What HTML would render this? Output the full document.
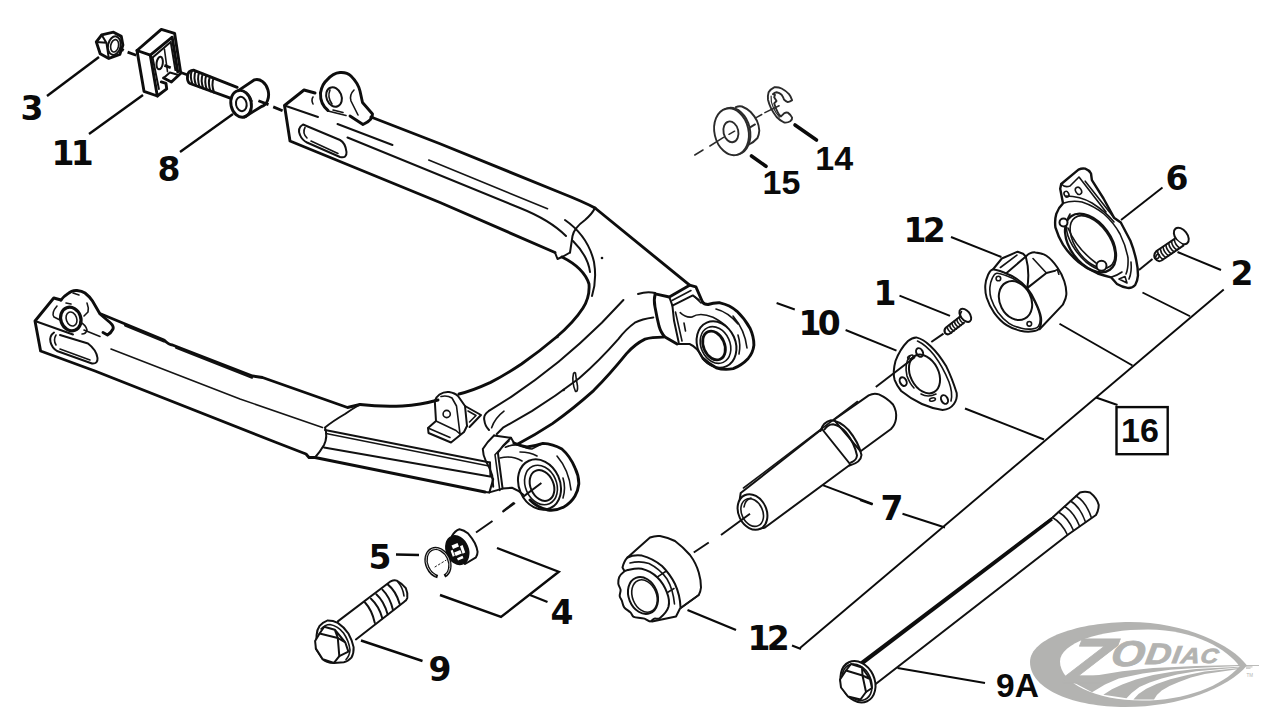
<!DOCTYPE html>
<html lang="en">
<head>
<meta charset="utf-8">
<title>Swingarm parts diagram</title>
<style>
html,body{margin:0;padding:0;background:#fff;}
body{width:1280px;height:728px;overflow:hidden;}
svg{display:block;}
.o{fill:none;stroke:#0d0d0d;stroke-width:2.9;stroke-linecap:round;stroke-linejoin:round;}
.m{fill:none;stroke:#111;stroke-width:2;stroke-linecap:round;stroke-linejoin:round;}
.t{fill:none;stroke:#151515;stroke-width:1.6;stroke-linecap:round;stroke-linejoin:round;}
.w{fill:#fff;}
.ld{fill:none;stroke:#0a0a0a;stroke-width:2.4;stroke-linecap:butt;}
.ld2{fill:none;stroke:#0a0a0a;stroke-width:1.9;stroke-linecap:butt;}
.ld3{fill:none;stroke:#0a0a0a;stroke-width:3.6;stroke-linecap:round;}
.ax{fill:none;stroke:#111;stroke-width:2;stroke-linecap:butt;}
.c{font-family:"DejaVu Sans","Liberation Sans",sans-serif;font-weight:bold;font-size:33px;letter-spacing:-3.6px;fill:#0a0a0a;}
.a{font-family:"Liberation Sans",sans-serif;font-weight:bold;font-size:34px;fill:#0a0a0a;}
</style>
</head>
<body>
<svg width="1280" height="728" viewBox="0 0 1280 728">
<rect width="1280" height="728" fill="#fff"/>

<!--LEADERS-->
<g id="leaders">
<path class="ld" d="M47 96L99 57"/>
<path class="ld" d="M89 134L143 95"/>
<path class="ld" d="M180 152L233 114"/>
<path class="ld3" d="M795 125L816.500 140"/>
<path class="ld3" d="M751.500 156L766 166.300"/>
<path class="ld2" d="M1121 220L1162.5 187.5"/>
<path class="ld2" d="M1177.5 252L1221 270"/>
<path class="ld2" d="M951 237L1001.4 257"/>
<path class="ld2" d="M899.5 295.6L950 315.8"/>
<path class="ld2" d="M845.6 330L896.5 350.6"/>
<path class="ld2" d="M776.6 303L794.8 309.5"/>
<path class="ld2" d="M822 484.8L872.8 504"/>
<path class="ld2" d="M860 500L872.5 504.5"/>
<path class="ld2" d="M902.5 513.75L945 527.5"/>
<path class="ld" d="M687.5 610L736 630"/>
<path class="ld" d="M396 554.5L419 555"/>
<path class="ld" d="M361 640.5L422.5 661"/>
<path class="ld2" d="M897.5 668L985 683"/>
<!-- bracket 4 -->
<path class="ld" d="M497 548L558.75 571.75L501 617L440 595"/>
<path class="ld" d="M530 595L547.5 602"/>
<!-- group 16 -->
<path class="ld2" d="M1223.75 289.5L800 648"/>
<path class="ld2" d="M792 645.5L801 649"/>
<path class="ld2" d="M1142.5 292.5L1190 316.25"/>
<path class="ld2" d="M1059.5 323.75L1132.5 365.5"/>
<path class="ld2" d="M965 408.5L1044 439.5"/>
<path class="ld2" d="M1096 397.5L1117.5 405"/>
<rect x="1116.5" y="407.100" width="51.200" height="47.100" fill="#fff" stroke="#0a0a0a" stroke-width="2.4"/>
</g>

<!--LABELS-->
<g id="labels">
<text class="c" transform="translate(20.5,120) scale(1,1)">3</text>
<text class="c" transform="translate(51.5,165) scale(1,1)">11</text>
<text class="c" transform="translate(157.5,181) scale(1,1)">8</text>
<text class="c" transform="translate(903.5,241.5) scale(1,1)">12</text>
<text class="c" transform="translate(873.5,304.5) scale(1,1)">1</text>
<text class="c" transform="translate(798.5,334.5) scale(1,1)">10</text>
<text class="c" transform="translate(1165.5,190) scale(1,1)">6</text>
<text class="c" transform="translate(1230.5,285) scale(1,1)">2</text>
<text class="c" transform="translate(880.5,519.75) scale(1,1)">7</text>
<text class="c" transform="translate(747.5,649.5) scale(1,1)">12</text>
<text class="c" transform="translate(368.5,569) scale(1,1)">5</text>
<text class="c" transform="translate(550.5,623.5) scale(1,1)">4</text>
<text class="c" transform="translate(428.5,681) scale(1,1)">9</text>
<text class="a" x="815.3" y="170.3">14</text>
<text class="a" x="762.6" y="193.8">15</text>
<text class="a" x="1121" y="441.6">16</text>
<text class="a" x="996" y="697" style="font-size:33.5px">9A</text>
</g>


<!--SWINGARM-->
<g id="swingarm">
<!-- upper arm -->
<path class="o" d="M315 93L304 90L284.5 105.5L290 141L440 202.5L555 252.5"/>
<path class="m" d="M555 252.5l2.5 6.5l5.5-2.5L570 252.5"/>
<path class="o" d="M371 117L440 143.75L560 192.5Q584 202 595 208"/>
<path class="m" d="M284.5 105.5L318 117M337.5 124L392.5 145"/>
<path class="t" d="M428.75 160L547.5 208.75"/>
<path class="m" d="M347.5 137.5L520 208Q550 220 566 236"/>
<!-- upper slot -->
<path class="m" d="M303 124.5Q297 128 300 135Q302 140 307 142.5L340 157Q347 158.5 346.5 152Q345.5 143 340 140Z"/>
<path class="t" d="M305 127.5Q302 133 307 138M311 141L338 153.5"/>
<!-- upper lug -->
<path class="o" d="M320.5 93Q322 84 327 80Q333 73 340 72.5Q347 72 351 76Q358 83 360 91L362.5 102.5L372.5 114Q373 120 363 124.5L350 116"/>
<path class="o" d="M320.5 93Q320 104 328 110.5"/>
<ellipse class="m" cx="334" cy="97" rx="7.5" ry="10" transform="rotate(-22 334 97)"/>
<path class="t" d="M330 90Q327 97 332 104"/>
<path class="t" d="M354 90Q349 95 351 101L358 115"/>
<path class="t" d="M328 111L346 115.5M333 110L343 112.5"/>
<path class="t" d="M313 97Q311 100 313 104"/>
<!-- junction -->
<path class="o" d="M595 208L689.600 285.200"/>
<path class="m" d="M595 208Q592 214 585 220Q574 228 572.5 236L570 252.5"/>
<path class="m" d="M565 220Q588 236 594 262Q597 280 592 296"/>
<path class="m" d="M573 241Q588 256 590 272"/>
<circle cx="602" cy="258" r="1.3" fill="#111"/>
<!-- inner U edge -->
<path class="o" d="M562 257Q584 268 589 284Q590 297 583 308Q574 322 556.5 337Q540 351 521.5 364Q505 375 490.6 382.4Q472 391 459 394"/>
<path class="o" d="M438 400Q420 405 402.5 406Q380 407 360 404.5"/>
<!-- curve B -->
<path class="m" d="M623.4 300Q612 312 601.8 322.7Q580 344 558.6 361.8Q535 381 511.2 396.8L488.5 411.2Q483 415 484.4 420.5Q485 426 489 430"/>
<path class="t" d="M504 411.2Q495 418 491.6 427.7"/>
<!-- curve C -->
<path class="m" d="M653.3 317.5Q642 319 634.8 322.7Q626 329 618.3 339.1Q600 360 579.2 378.3Q556 396 531.8 411.2L503 427.7L496.8 434"/>
<!-- curve E -->
<path class="o" d="M663.6 337.1Q652 337 645 339.1Q635 344 626.5 353.6Q610 374 593.6 390.6Q573 409 552.4 423.6Q535 435 517.4 444.2"/>
<!-- pin -->
<path class="t" d="M573.5 373.5Q571.5 382 575.5 391.5Q578 392 577.5 386Q576 378 575.5 373Q574.5 372 573.5 373.5Z"/>
<circle cx="557.5" cy="337" r="1.2" fill="#111"/>
<circle cx="563.7" cy="390" r="1.2" fill="#111"/>
<!-- lower arm -->
<path class="o" d="M61 300L53.75 298L35 321L40.6 351L95 371L275 442L306 454L309 457.5L315 457.5L485 492"/>
<path class="m" d="M35 321L73 334.5"/>
<path class="o" d="M101 314L164 340Q169 345 172.5 345L252.5 376L262.5 377.5L347.5 407.5L360 404.5"/>
<path class="m" d="M125 325.500L164 341.700M176 347.800L252 377.800"/>
<path class="t" d="M111 349L240 399L322.5 427.5"/>
<!-- lower slot -->
<path class="m" d="M54 332.5Q49 336 50.5 342Q52 348 57 351L92 363.5Q98 364 97.5 358Q96.5 350 88 343.5L60 335"/>
<path class="t" d="M56 335Q53 340 56 345M60 349L90 360"/>
<!-- lower lug -->
<path class="o" d="M61 300Q64 296 67.5 294Q72 290 77 290.5Q82 291 85 293Q90 297 92.5 301L100 314L110 322.5Q114 326 113 329Q111 333 107.5 335L103 332.5"/>
<ellipse cx="70.8" cy="319" rx="10" ry="12" transform="rotate(-20 70.8 319)" fill="none" stroke="#0d0d0d" stroke-width="3.2"/>
<ellipse class="t" cx="71.5" cy="319" rx="5.2" ry="7.2" transform="rotate(-20 71.5 319)"/>
<path class="t" d="M57 306Q51 313 54 317L60 320"/>
<path class="t" d="M80 322Q86 325 87 330Q86 334 82 334"/>
<path class="t" d="M87 303Q89 308 88 312L84 316"/>
<path class="t" d="M84 330L100 336.5"/>
<path class="t" d="M73 293L79 295M66 303L71 304"/>
<!-- reinforcement -->
<path class="m" d="M360 404.5Q352 409 345 414Q333 421 325 427.5Q328 437 324 445Q320 452 315 457.5"/>
<path class="m" d="M325 430L490 462.5"/>
<path class="t" d="M326 433.5L489 466"/>
<path class="m" d="M324 447.5L490 476.5"/>
<!-- bracket -->
<path class="m" d="M434.8 401Q436 397 439.5 394.5Q444 391.5 449 392Q455 393 458 396L465 406L467 426"/>
<path class="m" d="M434.8 401L436 421L428 428L428.5 433L451 442.5L464 432L467 426"/>
<path class="t" d="M441 396.5Q447 395 452 398L456.5 406L460 434"/>
<path class="t" d="M436 421L456 430.5L460 434M428 428L450 437.5"/>
<circle class="t" cx="446.7" cy="414" r="3.6"/>
<path class="m" d="M465 406L481 415L469.5 427"/>
<path class="t" d="M468 411L476 415.5L469.5 422"/>
</g>


<!--BOSSES-->
<g id="bosses">
<!-- upper collar -->
<path class="m" d="M638 294Q647 291 655.2 293"/>
<path class="o" d="M655.2 293.9L669.3 297L689.6 285.2L695.9 286.8L702.500 302"/>
<path class="m" d="M669.3 297L672.4 305.6L692.8 295.4L699 300"/>
<path class="t" d="M672 300.5L691 290.5"/>
<path class="o" d="M655.2 293.9Q653.5 300 655 307Q657 318 659 326Q661 333 665 337L677.1 344"/>
<path class="m" d="M672.4 305.6L674 320.5L678.7 342.4"/>
<path class="t" d="M675.5 312L682 341"/>
<path class="m" d="M677.1 344L689.6 344Q697 347 703 358"/>
<path class="t" d="M680.2 312.6Q686 318 692 317Q700 312 713 317.3Q722 322 727 327"/>
<path class="t" d="M684 323L685.5 331M695 297L701 303"/>
<!-- upper boss -->
<path class="o" d="M702.5 302Q704 304.5 708 304.5Q714 302.5 720 302.8Q730 305 737 311.3Q745 319 750 328.2Q754 337 753.9 345.2Q753 353 748.2 358.4Q742 365 733.2 368.7Q724 370.5 716.2 367.8Q709 364 703 358.4"/>
<ellipse class="m" cx="716.5" cy="344.5" rx="19" ry="24" transform="rotate(-24 716.5 344.5)"/>
<ellipse class="t" cx="715.5" cy="345" rx="14.500" ry="19" transform="rotate(-24 715.5 345)"/>
<ellipse cx="714" cy="345.500" rx="10.500" ry="15" transform="rotate(-24 714 345.500)" fill="none" stroke="#0d0d0d" stroke-width="2.8"/>
<path class="t" d="M733 316Q745 330 747 348M738 335Q741 345 739 354M716 309Q728 312 738 324"/>
<!-- lower collar -->
<path class="m" d="M494 435.5Q487 442 482.8 449Q483 455 485.6 460.4Q490 468 492.2 475.4L493.2 486.7"/>
<path class="m" d="M511 437.8Q503 445 497.9 452.8L502.6 488.6"/>
<path class="t" d="M509 441Q500 449 495 454.7L499.8 490.5"/>
<path class="m" d="M494 435.5L511 437.8L514 443"/>
<path class="m" d="M490 462.5L490.4 475.4L493.2 479.2L489.4 492.4L485 492"/>
<path class="m" d="M489.4 492.4L502.6 488.6L512 487.7Q518 490 523 494.5"/>
<path class="t" d="M505.4 447.2Q513 444 520.5 445.3Q527 449 531.8 449Q538 446 543 443.4"/>
<path class="t" d="M500 458Q512 455 522 461M520 452Q530 452 537 456"/>
<!-- lower boss -->
<path class="o" d="M514 443Q520 446 527 447Q535 446 543 443.4Q553 444 561.9 449Q570 456 575 467.9Q579 476 578.8 484Q578 491 575 496.1Q571 503 563.8 507Q556 511 548 510Q538 508 530 500"/>
<ellipse class="m" cx="539.5" cy="484.5" rx="20.5" ry="26" transform="rotate(-24 539.5 484.5)"/>
<ellipse class="t" cx="541" cy="485" rx="15.5" ry="20.5" transform="rotate(-24 541 485)"/>
<ellipse class="m" cx="542" cy="485.5" rx="11.5" ry="16" transform="rotate(-24 542 485.5)"/>
<path class="t" d="M557 456Q569 470 571 490M563 478Q566 488 563 498"/>
</g>



<!--TOPLEFT-->
<g id="topleft">
<!-- nut 3 -->
<path class="o" d="M96.3 41.9L101.7 34.9L113.5 32.2L121.3 36.4L122.9 45L119.8 54.5L108.8 58.4L100.2 53.7Z"/>
<path class="m" d="M101.7 34.9L106.4 42.7L108.8 58.4M96.3 41.9L106.4 42.7"/>
<ellipse class="m" cx="114.3" cy="45.6" rx="6.3" ry="9.4" transform="rotate(12 114.3 45.6)"/>
<ellipse class="t" cx="114.6" cy="45.8" rx="3.9" ry="6.3" transform="rotate(12 114.6 45.8)"/>
<!-- block 11 -->
<path class="o" d="M137 50.5L150.3 55.2L157.3 96L144 91.3Z"/>
<path class="o" d="M137 50.5L161.3 29.4L174.6 33.3L180.8 73.3L171.4 82L163.6 78"/>
<path class="o" d="M150.3 55.2L172.2 37.2L177.7 71.7"/>
<path class="m" d="M152.6 57.6L170.7 41.9L175.4 70.1"/>
<path class="m" d="M152.6 57.6L158.9 89"/>
<path class="o" d="M157.3 96L166.7 88.9L166 83.4L161.3 81.9"/>
<path class="m" d="M163.6 78L169.9 72.5L177.7 74.8"/>
<path class="t" d="M164.4 49L167.5 71.7"/>
<ellipse class="m" cx="159.7" cy="63.1" rx="3.1" ry="6.3" transform="rotate(8 159.7 63.1)"/>
<!-- bolt -->
<path class="o" d="M237.2 87.3L193.4 70.1Q188 70.5 187.5 76Q187 82 190 83.5L231 98.3"/>
<path class="m" d="M192 70.5Q189.500 76.000 192.5 84.300M195.6 71Q193.100 77.200 196.100 85.700M199.200 72.400Q196.700 78.600 199.700 87.100M202.800 73.800Q200.300 80.000 203.300 88.500M206.400 75.200Q203.900 81.400 206.900 89.900M210.000 76.600Q207.500 82.800 210.500 91.300M213.600 78.000Q211.100 84.200 214.100 92.700"/>
<!-- spacer 8 -->
<ellipse class="o w" cx="241.1" cy="103.8" rx="10.2" ry="13.5" transform="rotate(-12 241.1 103.8)"/>
<ellipse class="m" cx="241.3" cy="104" rx="5.3" ry="7.2" transform="rotate(-12 241.3 104)"/>
<path class="o" d="M238.300 90.600L254.500 79.800A10.200 13.500 -12 0 1 261.500 106.500L244.500 117"/>
<path class="t" d="M243 91Q249 93 252 101"/>
<!-- axis -->
<path d="M119.8 48.200L123.700 50.500M127.600 52.100L136.200 55.200M164.400 65.400L170.700 67.800M180.800 72.500L187.100 74.800M258.400 100.700L268.500 104.600M273.200 106.900L282.600 110.800" fill="none" stroke="#0d0d0d" stroke-width="2.8"/>
</g>


<!--BUSHING15 CLIP14-->
<g id="p1514" fill="none" stroke="#2b2b2b" stroke-width="1.9" stroke-linecap="round" stroke-linejoin="round">
<path d="M735.8 107.1Q739 105.800 742 106.5Q747 108.500 750.7 112Q754.500 116 756.9 120.700Q759 125.500 759.3 130.600Q759 135 757.5 138Q754 142 749 144.500"/>
<path d="M748.8 128.1L755 124.4"/>
<ellipse cx="733" cy="131.2" rx="17" ry="23.7" transform="rotate(-13 733 131.2)" fill="#fff"/>
<ellipse cx="731.5" cy="131.8" rx="17" ry="23.7" transform="rotate(-13 731.5 131.8)" fill="#fff"/>
<ellipse cx="730.9" cy="131.8" rx="7.4" ry="10.5" transform="rotate(-13 730.9 131.8)"/>
<path d="M792.1 100.3Q791 96.500 789 94.1Q785.500 90.500 781.6 88.5Q778 86.800 774.2 87.3Q770.500 89 768.6 92.2Q767.500 96 768 99.7Q769 104 771.1 108.3Q773.500 113 776.6 117Q780 120.500 784.1 122.5Q787.500 123 790.2 121.3Q792.500 119.500 792.1 117.6Q790.500 114.500 787.8 112.6Q785.800 112.300 784.1 113.300L781 116.4Q779 115 777.9 112.600Q775.500 108 774.2 103.4L776.500 101L774.2 97.2L775 94.8L772.9 94.1Q774.500 92.500 776.6 92.2Q779.500 92.800 781.6 94.700Q783.200 97 784.1 99.7Q785.800 101.500 787.800 102.100Q790.200 101.800 792.1 100.300Z"/>
<path d="M771.100 96Q770.500 102 773.500 108Q776 113.500 779.500 117" stroke-width="1.2"/>
<path d="M694.8 155L703 150M709.900 146L723.500 137.400M729 134.300L734.600 131.200M756.200 117.600L761.800 114.500M764.900 112.600L779.100 105.800" stroke-width="1.5"/>
</g>


<!--PLATE6 SCREW2-->
<g id="p6">
<path class="m w" style="stroke-width:2.4" d="M1060.2 188.8L1061.2 184L1078.5 169.6Q1082 168 1085.2 168.7Q1089 170 1091 173.5L1091.9 180.2L1103.5 198.5L1114 217.7L1120.8 222.5L1130.4 240.8Q1134 250 1136.2 260Q1138 268 1138 275.4Q1137.500 281 1135.2 285Q1132 288.500 1127.5 287.9Q1122 287 1117 284L1111 277.3Q1104 275.500 1097.7 273.5Q1087 269 1078.5 262Q1069 254 1063 244.6Q1058 236 1055.4 227.3Q1054.500 220 1056.3 213.8Q1058.500 207.500 1063 203.3Z"/>
<ellipse class="m" style="stroke-width:2.3" cx="1090.5" cy="243" rx="33" ry="20.5" transform="rotate(54 1090.5 243)"/>
<ellipse class="t" cx="1092.500" cy="242" rx="30" ry="17" transform="rotate(54 1092.500 242)"/>
<path class="t" d="M1070 214Q1064 224 1068 236Q1073 250 1086 262Q1094 268 1100 270"/>
<path class="t" d="M1063 203.300Q1072 200 1082 202Q1094 206 1104 214Q1114 223 1120 234Q1126 246 1128 258Q1128.500 268 1126 274"/>
<path class="t" d="M1066 196Q1080 196 1092 203Q1106 212 1114 222"/>
<path class="t" d="M1085.2 181.2L1114 217.7M1079 177L1106 212M1061.2 184Q1065 188 1070 186L1079 177"/>
<path class="t" d="M1131 262Q1132 272 1129 279M1111 277.300Q1118 275 1122 272"/>
<ellipse class="t" cx="1078.5" cy="190.8" rx="2.8" ry="3.8" transform="rotate(-30 1078.5 190.8)"/>
<ellipse class="t" cx="1066.5" cy="194.2" rx="2.2" ry="3" transform="rotate(-30 1066.5 194.2)"/>
<path class="t" d="M1119 279L1125 276.500L1127 283Z"/>
<circle class="m w" cx="1063.5" cy="222.5" r="4"/>
<circle class="m w" cx="1101.5" cy="265.8" r="5"/>
<path class="t" d="M1068 228Q1076 248 1096 263"/>
<!-- screw 2 -->
<ellipse class="m w" cx="1181.3" cy="236" rx="6" ry="9.400" transform="rotate(-38 1181.3 236)"/>
<path class="m w" d="M1174.6 238.8L1156.500 251Q1153 254.500 1155 258.500Q1158 262.500 1161.500 260.500L1183.3 245.6"/>
<path class="t" d="M1157.500 250.800Q1158 256 1163 259.500M1160.300 248.900Q1160.800 254.100 1165.800 257.600M1163.100 247.000Q1163.600 252.200 1168.600 255.700M1165.900 245.100Q1166.400 250.300 1171.400 253.800M1168.700 243.200Q1169.200 248.400 1174.200 251.900M1171.500 241.300Q1172.000 246.500 1177.000 250.000M1174.300 239.400Q1174.800 244.600 1179.800 248.100"/>
<ellipse class="t" cx="1157.500" cy="256.500" rx="1.5" ry="2.5" transform="rotate(30 1157.500 256.500)"/>
</g>


<!--CUP12U SCREW1 FLANGE10-->
<g id="p12u">
<path class="m w" d="M992.9 269.5L1001.8 258.5L1017.6 251.7L1023.1 253.7L1025.8 256.5C1026.4 256.0 1027.7 254.4 1029.3 253.7C1030.9 253.0 1032.6 252.0 1035.4 252.4C1038.3 252.7 1042.8 253.3 1046.4 255.8C1050.1 258.3 1054.4 263.2 1057.4 267.5C1060.4 271.7 1062.8 276.6 1064.3 281.2C1065.8 285.8 1066.6 291.1 1066.3 294.9C1066.1 298.8 1063.5 303.0 1062.9 304.6L1039.6 329.3Z"/>
<path class="m w" d="M985.3 285.3C985.5 281.6 986.8 277.7 988.0 275.0C989.3 272.4 990.1 269.9 992.9 269.5C995.6 269.1 1000.6 271.2 1004.5 272.7C1008.4 274.2 1012.4 275.9 1016.2 278.5C1020.0 281.0 1024.0 284.2 1027.2 288.1C1030.4 292.0 1033.2 297.0 1035.4 301.8C1037.7 306.6 1040.2 312.6 1040.9 316.9C1041.6 321.3 1040.9 325.5 1039.6 327.9C1038.2 330.3 1035.9 330.9 1032.7 331.3C1029.5 331.8 1024.7 331.7 1020.3 330.7C1016.0 329.6 1010.9 328.1 1006.6 325.2C1002.2 322.2 997.6 317.4 994.2 312.8C990.9 308.2 988.2 302.3 986.7 297.7C985.2 293.1 985.1 289.1 985.3 285.3Z"/>
<path class="t" d="M989.9 287.4C990.1 284.0 991.2 280.5 992.3 278.2C993.5 275.8 994.2 273.6 996.7 273.2C999.1 272.9 1003.7 274.7 1007.2 276.1C1010.7 277.4 1014.3 278.9 1017.7 281.3C1021.1 283.6 1024.7 286.4 1027.6 289.9C1030.5 293.4 1032.9 297.9 1035.0 302.3C1037.1 306.6 1039.3 312.0 1039.9 315.9C1040.6 319.8 1039.9 323.6 1038.7 325.8C1037.5 327.9 1035.4 328.4 1032.5 328.9C1029.6 329.3 1025.3 329.2 1021.4 328.2C1017.5 327.3 1012.9 326.0 1009.0 323.3C1005.1 320.6 1000.9 316.3 997.9 312.2C994.9 308.0 992.4 302.7 991.1 298.6C989.8 294.4 989.7 290.8 989.9 287.4Z"/>
<ellipse class="m" cx="1015.5" cy="300.6" rx="15.6" ry="20.3" transform="rotate(-27 1015.5 300.6)"/>
<circle class="t" cx="998.4" cy="278.5" r="2.3"/>
<circle class="t" cx="1029.3" cy="323.8" r="2.3"/>
<path class="m" d="M1006.600 273L1025.800 256.500Q1030 272 1027.200 288.100L1046.400 273L1054.700 270.900"/>
<path class="t" d="M1000.400 267.500L1016.900 255.100M1033 258.500L1046.400 273M1054.700 270.900L1057.400 269.500L1058.800 274.300"/>
<!-- screw 1 -->
<ellipse class="m w" cx="965.3" cy="315.3" rx="4.600" ry="7.600" transform="rotate(-38 965.3 315.3)"/>
<path class="t" d="M961.500 311.500Q959.500 314 960.500 317.500"/>
<path class="m w" d="M959.500 317L946 327.500Q943.500 330 945 333Q947.500 335.500 950 333.500L964 322.800"/>
<path class="t" d="M947.200 326.800Q947.500 330.500 951.500 333M949.600 324.900Q949.900 328.600 953.900 331.100M952.000 323.000Q952.300 326.700 956.300 329.200M954.400 321.100Q954.700 324.800 958.700 327.300M956.800 319.200Q957.100 322.900 961.100 325.400M959.200 317.300Q959.500 321.000 963.500 323.500"/>
<!-- flange 10 -->
<path class="m w" d="M916.2 337.4Q912 337.500 908 341Q900 349 895.500 361Q892.500 372 894.6 379.800Q897 386 901.2 391Q911 399 921.900 404Q932 408.500 942.600 409.900Q950 409.500 953.900 404Q957.500 399 956.700 393Q952 378 946.400 366.600Q939 354 930.400 345.900Q923 339 916.200 337.400Z"/>
<path class="t" d="M917.500 341Q926 345 934 355Q943 367 949 382Q953 393 951 401"/>
<ellipse class="m" cx="924.500" cy="374" rx="14" ry="20.500" transform="rotate(-27 924.500 374)"/>
<path class="t" d="M910 356Q904 364 907 376Q910 384 914 388M921 394Q928 398 936 394"/>
<ellipse class="m" cx="919.6" cy="352.5" rx="3.2" ry="4.6" transform="rotate(-27 919.6 352.5)"/>
<ellipse class="m" cx="903.2" cy="381.6" rx="3.2" ry="4.6" transform="rotate(-27 903.2 381.600)"/>
<ellipse class="m" cx="944.5" cy="399.5" rx="3.2" ry="4.6" transform="rotate(-27 944.5 399.5)"/>
<ellipse class="t" cx="910.500" cy="357" rx="3" ry="1.500" transform="rotate(-25 910.500 357)"/>
<ellipse class="t" cx="932.500" cy="399.500" rx="3" ry="1.500" transform="rotate(-15 932.500 399.500)"/>
<path class="ax" d="M875.8 387L915 357"/>
</g>


<!--TUBE7-->
<g id="p7">
<path class="m w" d="M834 419.8L868.7 395.4Q874 392.500 878.9 394.4Q887 398 893 404.5Q897 411 896 418.8Q895 425 891 429L860.6 451.3Z"/>
<path class="m w" d="M740.7 493L822 429L850.4 464.5L765 527.5Q755 531 745 522Q737 512 740.700 493Z"/>
<path class="t" d="M743.500 488L857.500 401.5"/>
<path class="m" d="M820.500 431Q823 422 831 420.300Q840 421 848.500 430Q858.500 442 861.500 455Q861 462.500 849.500 465.500"/>
<path class="m" d="M824.500 429.500Q828 424.500 833 424.300Q840 425.500 846 432.500Q854.500 443 857 455.500Q856.500 460.500 851 462.500"/>
<ellipse class="m w" cx="752.5" cy="512" rx="14" ry="18.5" transform="rotate(-25 752.5 512)"/>
<ellipse class="t" cx="752.200" cy="512.500" rx="10.500" ry="14.500" transform="rotate(-25 752.200 512.500)"/>
<path class="t" d="M744 507Q745 500 751 498"/>
</g>


<!--CUP12L-->
<g id="p12l">
<path class="m w" d="M622.5 567.5Q624 561 627.5 557.5L650 537.5Q655 535.500 660 536Q668 537.500 675 541Q683 547 690 555Q696 563 698.75 572.5Q701 580 701 587.5Q700.500 592 698.75 595L680 608.500L676 616.500L652 621.500Z"/>
<path class="m" d="M627.5 557.5Q634 554.500 642 555.600Q653 558.500 662 566Q670 574 675 584Q680 595 680.500 607"/>
<path class="t" d="M630 563Q640 560.500 649 563.500Q660 569 667 579Q673 589 674.500 604"/>
<path class="t" d="M698.750 595L680 608.500"/>
<path class="m w" d="M619.2 577.2C619.9 575.4 621.1 574.1 622.5 573.0C623.9 571.8 624.4 570.8 627.6 570.1C630.8 569.4 636.8 567.6 641.7 568.7C646.6 569.9 653.0 573.2 657.2 577.2C661.4 581.2 665.2 587.7 667.0 592.7C668.9 597.6 669.6 602.5 668.5 606.8C667.3 611.0 662.3 616.1 660.0 618.0C657.7 620.0 656.0 618.0 654.4 618.6C652.7 619.2 651.8 621.4 650.1 621.4C648.5 621.4 646.2 619.2 644.5 618.6C642.9 618.0 642.1 618.3 640.3 618.0C638.5 617.7 635.4 617.8 633.8 616.9C632.2 616.0 632.0 614.0 630.4 612.4C628.8 610.8 625.6 609.2 624.2 607.3C622.8 605.4 622.7 603.0 622.0 601.1C621.2 599.2 620.0 597.9 619.7 596.1C619.5 594.2 620.8 591.9 620.6 589.9C620.3 587.8 618.5 585.8 618.3 583.7C618.1 581.5 618.5 579.0 619.2 577.2Z"/>
<path class="t" d="M657.200 577.200L665.600 571.500M667 592.700L674 588.500"/>
<ellipse class="m" cx="643" cy="595.500" rx="14.300" ry="19" transform="rotate(-22 643 595.500)"/>
<ellipse class="t" cx="644.500" cy="596" rx="12" ry="16.800" transform="rotate(-22 644.500 596)"/>
</g>
<!--RING5 BEARING4-->
<g id="p45">
<path class="m w" d="M452 536Q455 530.500 459.500 529.200Q464 530 468.200 533.600Q472 538 474.800 543Q477 547.500 477.600 551.800Q477.500 555 476 557.300L465 564Z"/>
<ellipse cx="457.300" cy="550.100" rx="10.800" ry="14.800" transform="rotate(-22 457.300 550.100)" fill="#0d0d0d" stroke="#0d0d0d" stroke-width="1.500"/>
<path d="M451.500 545.500l6 -2.600l1.500 3.600l-6 2.600zM454.200 552.500l6 -2.600l1.500 3.600l-6 2.600zM460 546.300l2.600 -1.200l2.600 7.400l-2.600 1.200zM450.600 550.700l2 -0.900l2.200 6l-2 0.900zM457 558.200l5.500 -2.400l1 2.400l-5.500 2.400z" fill="#fff"/>
<ellipse cx="438" cy="562.700" rx="11.300" ry="14.800" transform="rotate(-24 438 562.700)" fill="none" stroke="#0d0d0d" stroke-width="3.400" stroke-dasharray="68 7" stroke-dashoffset="-27"/>
<ellipse cx="438" cy="562.700" rx="11.300" ry="14.800" transform="rotate(-24 438 562.700)" fill="none" stroke="#fff" stroke-width="0.700" stroke-dasharray="64 11" stroke-dashoffset="-29"/>
<path d="M434.700 567.100L446.300 560" fill="none" stroke="#222" stroke-width="1" stroke-dasharray="2.500 1.500"/>
</g>
<!--BOLT9-->
<g id="p9">
<path d="M337.8 621.4L390.7 581.3Q394 579.800 396.7 580.6Q402 583.500 405.8 588.1Q408 593 407.3 598Q406.500 600.500 404.3 601.7L355.9 639.5Z" fill="#fff"/><path class="m" d="M337.8 621.4L390.7 581.3Q394 579.800 396.7 580.6Q402 583.500 405.8 588.1Q408 593 407.3 598Q406.500 600.500 404.3 601.7L355.9 639.5"/>
<path class="m" d="M387.700 584.400Q396 591 399.700 604M382.400 589.600Q390 597 393 610M376.300 594.200Q384 601 387.700 614.600M371 598.700Q379 606 382.400 618.400M365 602.500Q372 610 374.800 622.900"/>
<path class="t" d="M398 582Q403 588 404 596"/>
<path class="m w" d="M316.600 635Q317 629.500 319.600 625.900Q323 622 327.200 620.600Q333 620.500 337.800 622.900Q344 627 348.400 633.500Q352 640 353.600 647.100Q354 653 351.400 657.700Q348 661.500 343.800 662.200L334 663Q326 663 322.700 659.200L315.900 648.600Z"/>
<path class="t" d="M321 629Q325 624.500 330 624.500Q338 626 343.500 633Q349 641 350 650Q349.500 656 346 659.500"/>
<path class="m w" d="M315.100 641L319.600 633.500L337.800 638L339.300 656.100L334 662.900L322.700 659.200L315.900 648.600Z"/>
<path class="m" d="M319.600 633.500L324.200 626.700L334.800 629.700L337.800 638M334.800 629.700L345.300 642.500L348.400 651.600L339.300 656.100M345.300 642.500L337.800 638"/>
</g>
<!--BOLT9A-->
<g id="p9a">
<path d="M860 663L1052.5 517.500L1080 492.500Q1085 491 1090 492.500Q1097 498 1098.750 505Q1098.500 511 1096 515L1067.500 535L876 683.750Z" fill="#fff"/><path class="m" d="M860 663L1052.5 517.500L1080 492.500Q1085 491 1090 492.500Q1097 498 1098.750 505Q1098.500 511 1096 515L1067.500 535L876 683.750"/>
<path d="M861 664.500L1052 519" fill="none" stroke="#0d0d0d" stroke-width="3.200"/>
<path class="t" d="M1052.500 517.500Q1062 523 1067.500 535M1058.500 512Q1068 517.500 1073.500 530.500M1064.500 506.500Q1074 512 1079.500 526M1070.500 501Q1080 506.500 1085.500 522M1076 496Q1086 501.500 1091.500 518"/>
<ellipse class="m w" cx="858" cy="681.750" rx="16.500" ry="21.500" transform="rotate(-25 858 681.750)"/>
<ellipse class="t" cx="857" cy="682.250" rx="14" ry="19" transform="rotate(-25 857 682.250)"/>
<path class="m w" d="M840 679.500L846 670.500L862.500 675.500L866 692L860.500 699.500L848 696.500L841 687.500Z"/>
<path class="m" d="M846 670.500L851 664L862 667.500L862.500 675.500M862 667.500L870 679L872 688L866 692M870 679L862.500 675.500"/>
</g>


<!--LOGO-->
<g id="logo" role="img" aria-label="ZODIAC"><title>ZODIAC</title>
<path d="M1030 662C1030 638,1080 622,1130 622C1185 622,1232 645,1247 665.500C1228 688,1180 707,1125 707C1075 707,1030 690,1030 662Z" fill="#b3b3b1"/>
<path d="M1060 661.500C1060 643,1100 629.500,1148 629.500C1195 629.500,1228 650,1239.500 666.400C1222 686,1185 700.500,1142 700.500C1095 700.500,1060 683,1060 661.500Z" fill="#fff"/>
<path d="M1074.1 682.7L1093.0 675.9L1122.2 671.2L1153.1 668.1L1196.1 666.1L1239.1 665.0L1239.1 666.1L1196.1 668.0L1170.3 669.8L1142.8 673.6L1118.8 678.4L1105.0 684.5L1092.1 692.2Z" fill="#b3b3b1"/>
<path d="M1103.3 694.8L1111.9 689.3L1122.2 684.5L1135.9 679.6L1153.1 675.0L1173.8 671.6L1196.1 669.0L1239.1 666.8L1239.1 667.6L1196.1 671.2L1177.2 674.5L1161.7 678.4L1149.7 682.6L1139.4 687.0L1131.6 692.9L1126.5 698.2Z" fill="#b3b3b1"/>
<path d="M1133.4 699.4L1138.5 693.9L1146.3 688.8L1156.6 683.9L1170.3 679.3L1187.5 675.0L1204.7 671.6L1239.1 668.1L1239.1 669.0L1204.7 674.1L1190.9 677.6L1178.9 681.9L1169.5 686.0L1161.7 690.5L1156.9 694.9L1154.0 699.4Z" fill="#b3b3b1"/>
<path d="M1246 665.500H1259M1246 666.900H1252.500M1246 668.200H1250.500" stroke="#b3b3b1" stroke-width="0.900" fill="none"/>
<text transform="translate(1070,683) scale(1.2,1) skewX(-7)" style="font-family:'Liberation Sans',sans-serif;font-weight:bold;font-style:italic;fill:#b3b3b1;stroke:#b3b3b1;stroke-width:.8px"><tspan font-size="64" x="-4.500" y="0">Z</tspan><tspan font-size="36" x="31" y="-17.500">O</tspan><tspan font-size="29.500" x="59.700" y="-18.700">D</tspan><tspan font-size="24.500" x="81.900" y="-19.700">I</tspan><tspan font-size="21.600" x="89.500" y="-20">A</tspan><tspan font-size="20.400" x="105.700" y="-20">C</tspan></text>
<text x="1246.500" y="677" style="font-family:'Liberation Sans',sans-serif;font-size:4.500px;fill:#b3b3b1">TM</text>
</g>

<!--AXES-->
<g id="axes">
<path class="ax" d="M541.4 483L522.6 497.1M514 502.6L503 511.2"/>
<path class="ax" d="M515 503L502.5 512M492.5 521L476 532.5"/>
<path class="ax" d="M750 513.75L721 535M708.75 542.5L693.75 552.5"/>
<path class="ax" d="M931.3 342L943.5 333.6"/>
<path class="ax" d="M1139 270L1152.5 259"/>
</g>
<!--PARTS-->
</svg>
</body>
</html>
